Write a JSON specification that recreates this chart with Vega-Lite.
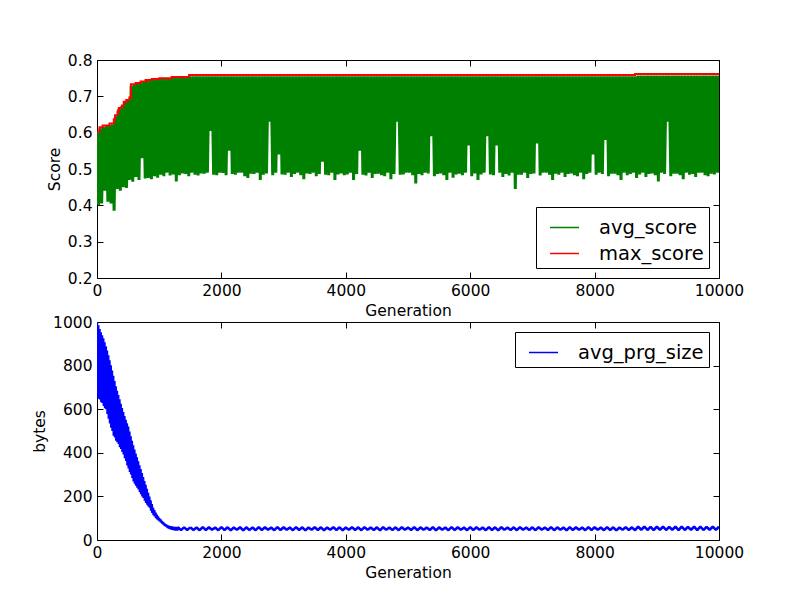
{
  "$schema": "https://vega.github.io/schema/vega-lite/v6.json",
  "background": "white",
  "padding": {"left": 32, "top": 52, "right": 10, "bottom": 10},
  "bounds": "flush",
  "spacing": 44,
  "config": {
    "font": "DejaVu Sans",
    "view": {"stroke": "black", "strokeWidth": 1},
    "axis": {
      "grid": false,
      "domain": false,
      "ticks": true,
      "tickColor": "black",
      "tickSize": -6,
      "tickWidth": 1,
      "labelColor": "black",
      "labelFontSize": 15.5,
      "labelPadding": 11,
      "labelFlush": false,
      "labelOverlap": false,
      "titleColor": "black",
      "titleFontSize": 15.5,
      "titleFontWeight": "normal",
      "titlePadding": 5
    },
    "legend": {
      "title": null,
      "strokeColor": "black",
      "fillColor": "white",
      "padding": 5,
      "cornerRadius": 0,
      "symbolType": "stroke",
      "symbolSize": 841,
      "symbolStrokeWidth": 1.5,
      "symbolOffset": 8,
      "labelFontSize": 19.5,
      "labelColor": "black",
      "labelOffset": 19,
      "rowPadding": 1,
      "offset": 10
    }
  },
  "datasets": {
    "avg": [
      {"g":0,"v":0.600},{"g":25,"v":0.40},{"g":50,"v":0.612},{"g":75,"v":0.405},{"g":100,"v":0.616},{"g":125,"v":0.44},{"g":150,"v":0.618},{"g":175,"v":0.41},{"g":200,"v":0.621},{"g":225,"v":0.405},
      {"g":250,"v":0.623},{"g":275,"v":0.385},{"g":300,"v":0.645},{"g":325,"v":0.445},{"g":350,"v":0.665},{"g":375,"v":0.44},{"g":400,"v":0.673},{"g":425,"v":0.45},{"g":450,"v":0.685},{"g":475,"v":0.448},
      {"g":500,"v":0.69},{"g":525,"v":0.47},{"g":550,"v":0.73},{"g":575,"v":0.465},{"g":600,"v":0.734},{"g":625,"v":0.478},{"g":650,"v":0.736},{"g":675,"v":0.47},{"g":700,"v":0.739},{"g":725,"v":0.53},
      {"g":750,"v":0.741},{"g":775,"v":0.474},{"g":800,"v":0.744},{"g":825,"v":0.475},{"g":850,"v":0.745},{"g":875,"v":0.472},{"g":900,"v":0.747},{"g":925,"v":0.48},{"g":950,"v":0.747},{"g":975,"v":0.476},
      {"g":1000,"v":0.749},{"g":1025,"v":0.484},{"g":1050,"v":0.749},{"g":1075,"v":0.48},{"g":1100,"v":0.75},{"g":1125,"v":0.49},{"g":1150,"v":0.75},{"g":1175,"v":0.482},{"g":1200,"v":0.751},{"g":1225,"v":0.485},
      {"g":1250,"v":0.752},{"g":1275,"v":0.466},{"g":1300,"v":0.752},{"g":1325,"v":0.483},{"g":1350,"v":0.753},{"g":1375,"v":0.488},{"g":1400,"v":0.753},{"g":1425,"v":0.486},{"g":1450,"v":0.754},{"g":1475,"v":0.48},
      {"g":1500,"v":0.755},{"g":1525,"v":0.49},{"g":1550,"v":0.755},{"g":1575,"v":0.484},{"g":1600,"v":0.755},{"g":1625,"v":0.482},{"g":1650,"v":0.755},{"g":1675,"v":0.488},{"g":1700,"v":0.755},{"g":1725,"v":0.487},
      {"g":1750,"v":0.755},{"g":1775,"v":0.49},{"g":1800,"v":0.755},{"g":1825,"v":0.605},{"g":1850,"v":0.755},{"g":1875,"v":0.484},{"g":1900,"v":0.755},{"g":1925,"v":0.483},{"g":1950,"v":0.755},{"g":1975,"v":0.49},
      {"g":2000,"v":0.755},{"g":2025,"v":0.489},{"g":2050,"v":0.755},{"g":2075,"v":0.483},{"g":2100,"v":0.755},{"g":2125,"v":0.55},{"g":2150,"v":0.755},{"g":2175,"v":0.486},{"g":2200,"v":0.755},{"g":2225,"v":0.484},
      {"g":2250,"v":0.755},{"g":2275,"v":0.49},{"g":2300,"v":0.755},{"g":2325,"v":0.49},{"g":2350,"v":0.755},{"g":2375,"v":0.48},{"g":2400,"v":0.755},{"g":2425,"v":0.475},{"g":2450,"v":0.755},{"g":2475,"v":0.487},
      {"g":2500,"v":0.755},{"g":2525,"v":0.486},{"g":2550,"v":0.755},{"g":2575,"v":0.49},{"g":2600,"v":0.755},{"g":2625,"v":0.47},{"g":2650,"v":0.755},{"g":2675,"v":0.484},{"g":2700,"v":0.755},{"g":2725,"v":0.488},
      {"g":2750,"v":0.755},{"g":2775,"v":0.63},{"g":2800,"v":0.755},{"g":2825,"v":0.483},{"g":2850,"v":0.755},{"g":2875,"v":0.49},{"g":2900,"v":0.755},{"g":2925,"v":0.54},{"g":2950,"v":0.755},{"g":2975,"v":0.485},
      {"g":3000,"v":0.755},{"g":3025,"v":0.484},{"g":3050,"v":0.755},{"g":3075,"v":0.49},{"g":3100,"v":0.755},{"g":3125,"v":0.478},{"g":3150,"v":0.755},{"g":3175,"v":0.486},{"g":3200,"v":0.755},{"g":3225,"v":0.49},
      {"g":3250,"v":0.755},{"g":3275,"v":0.483},{"g":3300,"v":0.755},{"g":3325,"v":0.472},{"g":3350,"v":0.755},{"g":3375,"v":0.488},{"g":3400,"v":0.755},{"g":3425,"v":0.486},{"g":3450,"v":0.755},{"g":3475,"v":0.49},
      {"g":3500,"v":0.755},{"g":3525,"v":0.48},{"g":3550,"v":0.755},{"g":3575,"v":0.486},{"g":3600,"v":0.755},{"g":3625,"v":0.52},{"g":3650,"v":0.755},{"g":3675,"v":0.484},{"g":3700,"v":0.755},{"g":3725,"v":0.483},
      {"g":3750,"v":0.755},{"g":3775,"v":0.49},{"g":3800,"v":0.755},{"g":3825,"v":0.47},{"g":3850,"v":0.755},{"g":3875,"v":0.485},{"g":3900,"v":0.755},{"g":3925,"v":0.488},{"g":3950,"v":0.755},{"g":3975,"v":0.483},
      {"g":4000,"v":0.755},{"g":4025,"v":0.485},{"g":4050,"v":0.755},{"g":4075,"v":0.49},{"g":4100,"v":0.755},{"g":4125,"v":0.47},{"g":4150,"v":0.755},{"g":4175,"v":0.486},{"g":4200,"v":0.755},{"g":4225,"v":0.55},
      {"g":4250,"v":0.755},{"g":4275,"v":0.484},{"g":4300,"v":0.755},{"g":4325,"v":0.482},{"g":4350,"v":0.755},{"g":4375,"v":0.49},{"g":4400,"v":0.755},{"g":4425,"v":0.475},{"g":4450,"v":0.755},{"g":4475,"v":0.486},
      {"g":4500,"v":0.755},{"g":4525,"v":0.487},{"g":4550,"v":0.755},{"g":4575,"v":0.483},{"g":4600,"v":0.755},{"g":4625,"v":0.48},{"g":4650,"v":0.755},{"g":4675,"v":0.49},{"g":4700,"v":0.755},{"g":4725,"v":0.472},
      {"g":4750,"v":0.755},{"g":4775,"v":0.486},{"g":4800,"v":0.755},{"g":4825,"v":0.63},{"g":4850,"v":0.755},{"g":4875,"v":0.484},{"g":4900,"v":0.755},{"g":4925,"v":0.485},{"g":4950,"v":0.755},{"g":4975,"v":0.49},
      {"g":5000,"v":0.755},{"g":5025,"v":0.49},{"g":5050,"v":0.755},{"g":5075,"v":0.483},{"g":5100,"v":0.755},{"g":5125,"v":0.46},{"g":5150,"v":0.755},{"g":5175,"v":0.486},{"g":5200,"v":0.755},{"g":5225,"v":0.483},
      {"g":5250,"v":0.755},{"g":5275,"v":0.49},{"g":5300,"v":0.755},{"g":5325,"v":0.488},{"g":5350,"v":0.755},{"g":5375,"v":0.59},{"g":5400,"v":0.755},{"g":5425,"v":0.48},{"g":5450,"v":0.755},{"g":5475,"v":0.486},
      {"g":5500,"v":0.755},{"g":5525,"v":0.488},{"g":5550,"v":0.755},{"g":5575,"v":0.483},{"g":5600,"v":0.755},{"g":5625,"v":0.47},{"g":5650,"v":0.755},{"g":5675,"v":0.49},{"g":5700,"v":0.755},{"g":5725,"v":0.476},
      {"g":5750,"v":0.755},{"g":5775,"v":0.485},{"g":5800,"v":0.755},{"g":5825,"v":0.487},{"g":5850,"v":0.755},{"g":5875,"v":0.483},{"g":5900,"v":0.755},{"g":5925,"v":0.49},{"g":5950,"v":0.755},{"g":5975,"v":0.565},
      {"g":6000,"v":0.755},{"g":6025,"v":0.48},{"g":6050,"v":0.755},{"g":6075,"v":0.488},{"g":6100,"v":0.755},{"g":6125,"v":0.47},{"g":6150,"v":0.755},{"g":6175,"v":0.485},{"g":6200,"v":0.755},{"g":6225,"v":0.49},
      {"g":6250,"v":0.755},{"g":6275,"v":0.59},{"g":6300,"v":0.755},{"g":6325,"v":0.485},{"g":6350,"v":0.755},{"g":6375,"v":0.483},{"g":6400,"v":0.755},{"g":6425,"v":0.565},{"g":6450,"v":0.755},{"g":6475,"v":0.49},
      {"g":6500,"v":0.755},{"g":6525,"v":0.478},{"g":6550,"v":0.755},{"g":6575,"v":0.486},{"g":6600,"v":0.755},{"g":6625,"v":0.482},{"g":6650,"v":0.755},{"g":6675,"v":0.49},{"g":6700,"v":0.755},{"g":6725,"v":0.445},
      {"g":6750,"v":0.755},{"g":6775,"v":0.484},{"g":6800,"v":0.755},{"g":6825,"v":0.484},{"g":6850,"v":0.755},{"g":6875,"v":0.49},{"g":6900,"v":0.755},{"g":6925,"v":0.475},{"g":6950,"v":0.755},{"g":6975,"v":0.486},
      {"g":7000,"v":0.755},{"g":7025,"v":0.488},{"g":7050,"v":0.755},{"g":7075,"v":0.57},{"g":7100,"v":0.755},{"g":7125,"v":0.482},{"g":7150,"v":0.755},{"g":7175,"v":0.49},{"g":7200,"v":0.755},{"g":7225,"v":0.49},
      {"g":7250,"v":0.755},{"g":7275,"v":0.484},{"g":7300,"v":0.755},{"g":7325,"v":0.47},{"g":7350,"v":0.755},{"g":7375,"v":0.487},{"g":7400,"v":0.755},{"g":7425,"v":0.484},{"g":7450,"v":0.755},{"g":7475,"v":0.49},
      {"g":7500,"v":0.755},{"g":7525,"v":0.478},{"g":7550,"v":0.755},{"g":7575,"v":0.486},{"g":7600,"v":0.755},{"g":7625,"v":0.488},{"g":7650,"v":0.755},{"g":7675,"v":0.483},{"g":7700,"v":0.755},{"g":7725,"v":0.48},
      {"g":7750,"v":0.755},{"g":7775,"v":0.49},{"g":7800,"v":0.755},{"g":7825,"v":0.472},{"g":7850,"v":0.755},{"g":7875,"v":0.486},{"g":7900,"v":0.755},{"g":7925,"v":0.49},{"g":7950,"v":0.755},{"g":7975,"v":0.54},
      {"g":8000,"v":0.755},{"g":8025,"v":0.484},{"g":8050,"v":0.755},{"g":8075,"v":0.49},{"g":8100,"v":0.755},{"g":8125,"v":0.486},{"g":8150,"v":0.755},{"g":8175,"v":0.58},{"g":8200,"v":0.755},{"g":8225,"v":0.48},
      {"g":8250,"v":0.755},{"g":8275,"v":0.487},{"g":8300,"v":0.755},{"g":8325,"v":0.487},{"g":8350,"v":0.755},{"g":8375,"v":0.483},{"g":8400,"v":0.755},{"g":8425,"v":0.47},{"g":8450,"v":0.755},{"g":8475,"v":0.49},
      {"g":8500,"v":0.755},{"g":8525,"v":0.483},{"g":8550,"v":0.755},{"g":8575,"v":0.486},{"g":8600,"v":0.755},{"g":8625,"v":0.49},{"g":8650,"v":0.755},{"g":8675,"v":0.475},{"g":8700,"v":0.757},{"g":8725,"v":0.485},
      {"g":8750,"v":0.757},{"g":8775,"v":0.49},{"g":8800,"v":0.757},{"g":8825,"v":0.478},{"g":8850,"v":0.757},{"g":8875,"v":0.486},{"g":8900,"v":0.757},{"g":8925,"v":0.488},{"g":8950,"v":0.757},{"g":8975,"v":0.483},
      {"g":9000,"v":0.757},{"g":9025,"v":0.466},{"g":9050,"v":0.757},{"g":9075,"v":0.49},{"g":9100,"v":0.757},{"g":9125,"v":0.486},{"g":9150,"v":0.757},{"g":9175,"v":0.63},{"g":9200,"v":0.757},{"g":9225,"v":0.48},
      {"g":9250,"v":0.757},{"g":9275,"v":0.487},{"g":9300,"v":0.757},{"g":9325,"v":0.487},{"g":9350,"v":0.757},{"g":9375,"v":0.483},{"g":9400,"v":0.757},{"g":9425,"v":0.472},{"g":9450,"v":0.757},{"g":9475,"v":0.49},
      {"g":9500,"v":0.757},{"g":9525,"v":0.484},{"g":9550,"v":0.757},{"g":9575,"v":0.486},{"g":9600,"v":0.757},{"g":9625,"v":0.478},{"g":9650,"v":0.757},{"g":9675,"v":0.49},{"g":9700,"v":0.757},{"g":9725,"v":0.49},
      {"g":9750,"v":0.757},{"g":9775,"v":0.483},{"g":9800,"v":0.757},{"g":9825,"v":0.48},{"g":9850,"v":0.757},{"g":9875,"v":0.487},{"g":9900,"v":0.757},{"g":9925,"v":0.485},{"g":9950,"v":0.757},{"g":9975,"v":0.49},
      {"g":10000,"v":0.757}
    ],
    "max": [
      {"g":0,"v":0.603},{"g":40,"v":0.615},{"g":90,"v":0.62},{"g":200,"v":0.625},{"g":270,"v":0.637},{"g":290,"v":0.648},{"g":330,"v":0.658},{"g":350,"v":0.668},{"g":400,"v":0.675},{"g":430,"v":0.685},
      {"g":470,"v":0.69},{"g":520,"v":0.697},{"g":545,"v":0.733},{"g":620,"v":0.737},{"g":700,"v":0.741},{"g":780,"v":0.745},{"g":880,"v":0.748},{"g":1000,"v":0.75},{"g":1200,"v":0.753},{"g":1480,"v":0.759},
      {"g":8650,"v":0.7615},{"g":10000,"v":0.7615}
    ],
    "size": [
      {"g":0,"v":1000},{"g":10,"v":658},{"g":20,"v":985},{"g":30,"v":648},{"g":40,"v":968},{"g":50,"v":645},{"g":60,"v":953},{"g":70,"v":632},{"g":80,"v":939},{"g":90,"v":628},
      {"g":100,"v":925},{"g":110,"v":615},{"g":120,"v":907},{"g":130,"v":604},{"g":140,"v":889},{"g":150,"v":600},{"g":160,"v":869},{"g":170,"v":578},{"g":180,"v":847},{"g":190,"v":556},
      {"g":200,"v":825},{"g":210,"v":534},{"g":220,"v":801},{"g":230,"v":515},{"g":240,"v":777},{"g":250,"v":500},{"g":260,"v":753},{"g":270,"v":478},{"g":280,"v":729},{"g":290,"v":470},
      {"g":300,"v":705},{"g":310,"v":455},{"g":320,"v":685},{"g":330,"v":448},{"g":340,"v":665},{"g":350,"v":440},{"g":360,"v":645},{"g":370,"v":425},{"g":380,"v":625},{"g":390,"v":418},
      {"g":400,"v":605},{"g":410,"v":404},{"g":420,"v":587},{"g":430,"v":392},{"g":440,"v":569},{"g":450,"v":375},{"g":460,"v":552},{"g":470,"v":362},{"g":480,"v":536},{"g":490,"v":342},
      {"g":500,"v":520},{"g":510,"v":328},{"g":520,"v":498},{"g":530,"v":312},{"g":540,"v":476},{"g":550,"v":300},{"g":560,"v":455},{"g":570,"v":285},{"g":580,"v":435},{"g":590,"v":268},
      {"g":600,"v":415},{"g":610,"v":258},{"g":620,"v":397},{"g":630,"v":249},{"g":640,"v":379},{"g":650,"v":240},{"g":660,"v":361},{"g":670,"v":232},{"g":680,"v":343},{"g":690,"v":220},
      {"g":700,"v":325},{"g":710,"v":210},{"g":720,"v":307},{"g":730,"v":200},{"g":740,"v":289},{"g":750,"v":193},{"g":760,"v":271},{"g":770,"v":180},{"g":780,"v":253},{"g":790,"v":170},
      {"g":800,"v":235},{"g":810,"v":162},{"g":820,"v":217},{"g":830,"v":154},{"g":840,"v":199},{"g":850,"v":148},{"g":860,"v":182},{"g":870,"v":135},{"g":880,"v":165},{"g":890,"v":124},
      {"g":900,"v":148},{"g":910,"v":114},{"g":920,"v":137},{"g":930,"v":108},{"g":940,"v":126},{"g":950,"v":100},{"g":960,"v":116},{"g":970,"v":95},{"g":980,"v":108},{"g":990,"v":90},
      {"g":1000,"v":100},{"g":1010,"v":86},{"g":1020,"v":94},{"g":1030,"v":81},{"g":1040,"v":87},{"g":1050,"v":76},{"g":1060,"v":82},{"g":1070,"v":71},{"g":1080,"v":77},{"g":1090,"v":66},
      {"g":1100,"v":72},{"g":1110,"v":62},{"g":1120,"v":69},{"g":1130,"v":58},{"g":1140,"v":66},{"g":1150,"v":54},{"g":1160,"v":64},{"g":1170,"v":51},{"g":1180,"v":63},{"g":1190,"v":49},
      {"g":1200,"v":62},{"g":1210,"v":47},{"g":1220,"v":61},{"g":1230,"v":46},{"g":1240,"v":60},{"g":1250,"v":45},{"g":1260,"v":60},{"g":1270,"v":44},{"g":1280,"v":59},{"g":1290,"v":44},
      {"g":1300,"v":59},{"g":1350,"v":45},{"g":1400,"v":58},{"g":1450,"v":46},
      {"g":1500,"v":58},{"g":1550,"v":46},{"g":1600,"v":57},{"g":1650,"v":45},{"g":1700,"v":59},{"g":1750,"v":46},{"g":1800,"v":58},{"g":1850,"v":47},{"g":1900,"v":57},{"g":1950,"v":45},
      {"g":2000,"v":59},{"g":2050,"v":46},{"g":2100,"v":58},{"g":2150,"v":45},{"g":2200,"v":57},{"g":2250,"v":47},{"g":2300,"v":59},{"g":2350,"v":44},{"g":2400,"v":58},{"g":2450,"v":46},
      {"g":2500,"v":57},{"g":2550,"v":45},{"g":2600,"v":59},{"g":2650,"v":46},{"g":2700,"v":58},{"g":2750,"v":47},{"g":2800,"v":57},{"g":2850,"v":45},{"g":2900,"v":59},{"g":2950,"v":46},
      {"g":3000,"v":58},{"g":3050,"v":47},{"g":3100,"v":57},{"g":3150,"v":45},{"g":3200,"v":59},{"g":3250,"v":46},{"g":3300,"v":58},{"g":3350,"v":44},{"g":3400,"v":57},{"g":3450,"v":47},
      {"g":3500,"v":59},{"g":3550,"v":46},{"g":3600,"v":58},{"g":3650,"v":45},{"g":3700,"v":57},{"g":3750,"v":47},{"g":3800,"v":59},{"g":3850,"v":46},{"g":3900,"v":58},{"g":3950,"v":45},
      {"g":4000,"v":57},{"g":4050,"v":47},{"g":4100,"v":59},{"g":4150,"v":46},{"g":4200,"v":58},{"g":4250,"v":45},{"g":4300,"v":59},{"g":4350,"v":47},{"g":4400,"v":57},{"g":4450,"v":46},
      {"g":4500,"v":58},{"g":4550,"v":44},{"g":4600,"v":59},{"g":4650,"v":47},{"g":4700,"v":57},{"g":4750,"v":46},{"g":4800,"v":58},{"g":4850,"v":45},{"g":4900,"v":59},{"g":4950,"v":47},
      {"g":5000,"v":57},{"g":5050,"v":46},{"g":5100,"v":59},{"g":5150,"v":45},{"g":5200,"v":58},{"g":5250,"v":47},{"g":5300,"v":57},{"g":5350,"v":46},{"g":5400,"v":59},{"g":5450,"v":44},
      {"g":5500,"v":58},{"g":5550,"v":47},{"g":5600,"v":57},{"g":5650,"v":45},{"g":5700,"v":59},{"g":5750,"v":46},{"g":5800,"v":58},{"g":5850,"v":47},{"g":5900,"v":57},{"g":5950,"v":45},
      {"g":6000,"v":59},{"g":6050,"v":46},{"g":6100,"v":58},{"g":6150,"v":47},{"g":6200,"v":57},{"g":6250,"v":45},{"g":6300,"v":59},{"g":6350,"v":46},{"g":6400,"v":58},{"g":6450,"v":44},
      {"g":6500,"v":59},{"g":6550,"v":47},{"g":6600,"v":57},{"g":6650,"v":46},{"g":6700,"v":58},{"g":6750,"v":45},{"g":6800,"v":59},{"g":6850,"v":47},{"g":6900,"v":57},{"g":6950,"v":46},
      {"g":7000,"v":58},{"g":7050,"v":45},{"g":7100,"v":59},{"g":7150,"v":47},{"g":7200,"v":57},{"g":7250,"v":46},{"g":7300,"v":59},{"g":7350,"v":45},{"g":7400,"v":58},{"g":7450,"v":47},
      {"g":7500,"v":57},{"g":7550,"v":44},{"g":7600,"v":59},{"g":7650,"v":46},{"g":7700,"v":58},{"g":7750,"v":47},{"g":7800,"v":57},{"g":7850,"v":45},{"g":7900,"v":59},{"g":7950,"v":46},
      {"g":8000,"v":58},{"g":8050,"v":47},{"g":8100,"v":57},{"g":8150,"v":45},{"g":8200,"v":59},{"g":8250,"v":46},{"g":8300,"v":58},{"g":8350,"v":44},{"g":8400,"v":57},{"g":8450,"v":47},
      {"g":8500,"v":59},{"g":8550,"v":46},{"g":8600,"v":58},{"g":8650,"v":45},{"g":8700,"v":61},{"g":8750,"v":47},{"g":8800,"v":61},{"g":8850,"v":46},{"g":8900,"v":60},{"g":8950,"v":45},
      {"g":9000,"v":61},{"g":9050,"v":47},{"g":9100,"v":61},{"g":9150,"v":46},{"g":9200,"v":60},{"g":9250,"v":47},{"g":9300,"v":61},{"g":9350,"v":45},{"g":9400,"v":61},{"g":9450,"v":46},
      {"g":9500,"v":60},{"g":9550,"v":47},{"g":9600,"v":61},{"g":9650,"v":45},{"g":9700,"v":61},{"g":9750,"v":46},{"g":9800,"v":60},{"g":9850,"v":47},{"g":9900,"v":61},{"g":9950,"v":46},
      {"g":10000,"v":61}
    ]
  },
  "resolve": {"scale": {"color": "independent"}, "legend": {"color": "independent"}},
  "vconcat": [
    {
      "width": 622,
      "height": 218,
      "layer": [
        {
          "data": {"name": "avg"},
          "mark": {"type": "line", "strokeWidth": 3, "strokeJoin": "bevel", "clip": true},
          "encoding": {
            "x": {"field": "g", "type": "quantitative", "scale": {"domain": [0, 10000], "nice": false},
                  "axis": {"title": "Generation", "values": [0, 2000, 4000, 6000, 8000, 10000], "format": "d"}},
            "y": {"field": "v", "type": "quantitative", "scale": {"domain": [0.2, 0.8], "nice": false, "zero": false},
                  "axis": {"title": "Score", "values": [0.2, 0.3, 0.4, 0.5, 0.6, 0.7, 0.8], "format": ".1f"}},
            "color": {"datum": "avg_score", "type": "nominal",
                      "scale": {"domain": ["avg_score", "max_score"], "range": ["#008000", "#ff0000"]},
                      "legend": {"orient": "bottom-right"}}
          }
        },
        {
          "data": {"name": "max"},
          "mark": {"type": "line", "interpolate": "step-after", "strokeWidth": 2, "clip": true},
          "encoding": {
            "x": {"field": "g", "type": "quantitative",
                  "axis": {"orient": "top", "labels": false, "title": null, "values": [0, 2000, 4000, 6000, 8000, 10000]}},
            "y": {"field": "v", "type": "quantitative",
                  "axis": {"orient": "right", "labels": false, "title": null, "values": [0.2, 0.3, 0.4, 0.5, 0.6, 0.7, 0.8]}},
            "color": {"datum": "max_score", "type": "nominal"}
          }
        }
      ],
      "resolve": {"axis": {"x": "independent", "y": "independent"}}
    },
    {
      "width": 622,
      "height": 218,
      "layer": [
        {
          "data": {"name": "size"},
          "transform": [{"filter": "datum.g <= 1500"}],
          "mark": {"type": "line", "strokeWidth": 2.5, "strokeJoin": "bevel", "clip": true},
          "encoding": {
            "x": {"field": "g", "type": "quantitative", "scale": {"domain": [0, 10000], "nice": false},
                  "axis": {"title": "Generation", "values": [0, 2000, 4000, 6000, 8000, 10000], "format": "d"}},
            "y": {"field": "v", "type": "quantitative", "scale": {"domain": [0, 1000], "nice": false},
                  "axis": {"title": "bytes", "values": [0, 200, 400, 600, 800, 1000], "format": "d"}},
            "color": {"datum": "avg_prg_size", "type": "nominal",
                      "scale": {"domain": ["avg_prg_size"], "range": ["#0000ff"]},
                      "legend": {"orient": "top-right"}}
          }
        },
        {
          "data": {"name": "size"},
          "transform": [{"filter": "datum.g >= 1500"}],
          "mark": {"type": "line", "strokeWidth": 2.6, "strokeJoin": "bevel", "clip": true},
          "encoding": {
            "x": {"field": "g", "type": "quantitative",
                  "axis": {"orient": "top", "labels": false, "title": null, "values": [0, 2000, 4000, 6000, 8000, 10000]}},
            "y": {"field": "v", "type": "quantitative",
                  "axis": {"orient": "right", "labels": false, "title": null, "values": [0, 200, 400, 600, 800, 1000]}},
            "color": {"datum": "avg_prg_size", "type": "nominal"}
          }
        }
      ],
      "resolve": {"axis": {"x": "independent", "y": "independent"}}
    }
  ]
}
